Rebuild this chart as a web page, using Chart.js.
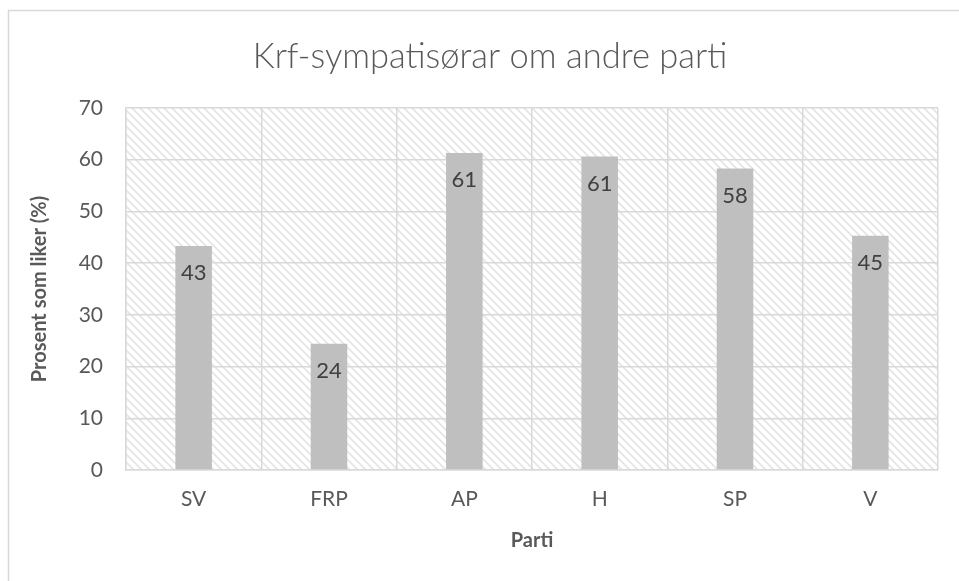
<!DOCTYPE html>
<html>
<head>
<meta charset="utf-8">
<script src="https://cdn.jsdelivr.net/npm/chart.js@4.4.0/dist/chart.umd.min.js"></script>
<style>
  html, body { margin: 0; padding: 0; background: #ffffff; overflow: hidden; }
  #wrap { width: 959px; height: 581px; position: relative; }
</style>
</head>
<body>
<div id="wrap"><canvas id="c" width="959" height="581"></canvas></div>
<script>
const chartTitle = 'Krf-sympatisørar om andre parti';
const categories = ['SV', 'FRP', 'AP', 'H', 'SP', 'V'];
const values = [43.3, 24.4, 61.3, 60.6, 58.3, 45.3];
const dataLabels = ['43', '24', '61', '61', '58', '45'];
const yTicks = [0, 10, 20, 30, 40, 50, 60, 70];
const yTitle = 'Prosent som liker (%)';
const xTitle = 'Parti';

const FONT = 'Lato, "Open Sans", sans-serif';

function makePattern() {
  const s = 8;
  const t = document.createElement('canvas');
  t.width = s; t.height = s;
  const g = t.getContext('2d');
  g.fillStyle = '#ffffff';
  g.fillRect(0, 0, s, s);
  g.strokeStyle = '#e4e4e4';
  g.lineWidth = 1.6;
  g.beginPath();
  g.moveTo(-2, -2); g.lineTo(s + 2, s + 2);
  g.moveTo(-2, s - 2); g.lineTo(2, s + 2);
  g.moveTo(s - 2, -2); g.lineTo(s + 2, 2);
  g.stroke();
  return g.createPattern(t, 'repeat');
}

const decor = {
  id: 'decor',
  beforeDraw(chart) {
    const ctx = chart.ctx;
    const a = chart.chartArea;
    ctx.save();
    ctx.fillStyle = '#ffffff';
    ctx.fillRect(0, 0, chart.width, chart.height);
    ctx.strokeStyle = '#d9d9d9';
    ctx.lineWidth = 1.5;
    ctx.beginPath();
    ctx.moveTo(8.5, chart.height + 5);
    ctx.lineTo(8.5, 10.5);
    ctx.lineTo(chart.width + 5, 10.5);
    ctx.stroke();
    ctx.fillStyle = makePattern();
    ctx.fillRect(a.left, a.top, a.right - a.left, a.bottom - a.top);
    ctx.restore();
  },
  afterDraw(chart) {
    const ctx = chart.ctx;
    ctx.save();
    ctx.fillStyle = '#595959';
    ctx.font = '300 34.5px ' + FONT;
    ctx.textAlign = 'center';
    ctx.textBaseline = 'middle';
    ctx.fillText(chartTitle, 490, 57);
    ctx.restore();
  },
  afterDatasetsDraw(chart) {
    const ctx = chart.ctx;
    const meta = chart.getDatasetMeta(0);
    ctx.save();
    ctx.fillStyle = '#404040';
    ctx.font = '22px ' + FONT;
    ctx.textAlign = 'center';
    ctx.textBaseline = 'middle';
    meta.data.forEach((bar, i) => {
      ctx.fillText(dataLabels[i], bar.x, bar.y + 27);
    });
    ctx.restore();
  }
};

new Chart(document.getElementById('c'), {
  type: 'bar',
  data: {
    labels: categories,
    datasets: [{
      data: values,
      backgroundColor: '#bfbfbf',
      borderWidth: 0,
      categoryPercentage: 1,
      barPercentage: 0.27
    }]
  },
  options: {
    responsive: false,
    animation: false,
    events: [],
    layout: { padding: { top: 108, right: 21, left: 0, bottom: 0 } },
    plugins: { legend: { display: false }, tooltip: { enabled: false }, title: { display: false } },
    scales: {
      x: {
        grid: { color: '#d9d9d9', lineWidth: 1.5, drawTicks: false, offset: true },
        border: { color: '#d9d9d9', width: 1.5 },
        ticks: { color: '#595959', font: { family: FONT, size: 21 }, padding: 17 },
        title: { display: true, text: xTitle, color: '#595959', font: { family: FONT, size: 20, weight: 'bold' }, padding: { top: 0, bottom: 28 } },
        afterFit(scale) { scale.height = 111; }
      },
      y: {
        min: 0, max: 70,
        afterBuildTicks(scale) { scale.ticks = yTicks.map(v => ({ value: v })); },
        grid: { color: '#d9d9d9', lineWidth: 1.5, drawTicks: false },
        border: { color: '#d9d9d9', width: 1.5 },
        ticks: { color: '#595959', font: { family: FONT, size: 21 }, padding: 23 },
        title: { display: true, text: yTitle, color: '#595959', font: { family: FONT, size: 20, weight: 'bold' }, padding: { top: 28, bottom: 0 } },
        afterFit(scale) { scale.width = 126; }
      }
    }
  },
  plugins: [decor]
});
</script>
</body>
</html>
